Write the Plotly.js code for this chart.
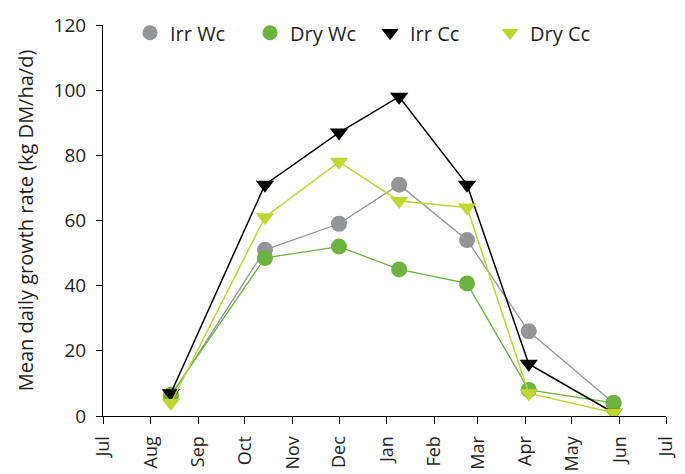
<!DOCTYPE html>
<html>
<head>
<meta charset="utf-8">
<script src="https://cdn.plot.ly/plotly-3.0.1.min.js"></script>
<style>html,body{margin:0;padding:0;background:#fff;}#chart{width:685px;height:474px;}</style>
</head>
<body>
<div id="chart"></div>
<script>
const sampleDates = ['2017-08-14','2017-10-14','2017-12-01','2018-01-09','2018-02-22','2018-04-03','2018-05-28'];
const irrWc = [6, 51, 59, 71, 54, 26, 4];
const dryWc = [6.5, 48.5, 52, 45, 40.7, 8, 4];
const irrCc = [7, 71, 87, 98, 71, 16, 1];
const dryCc = [4, 61, 78, 66, 64, 7, 1];
const seriesNames = ['Irr Wc', 'Dry Wc', 'Irr Cc', 'Dry Cc'];

const font = '"Open Sans", sans-serif';
const txt = '#231f20';

const styles = [
  {color: '#939598', symbol: 'circle', lw: 1.3},
  {color: '#6cb33f', symbol: 'circle', lw: 1.3},
  {color: '#000000', symbol: 'triangle-down', lw: 1.5},
  {color: '#bfd730', symbol: 'triangle-down', lw: 1.5}
];
const values = [irrWc, dryWc, irrCc, dryCc];

const data = [];
values.forEach((y, i) => {
  const s = styles[i];
  data.push({
    x: sampleDates, y: y, name: seriesNames[i], type: 'scatter', mode: 'lines+markers',
    showlegend: false,
    line: {color: s.color, width: s.lw},
    marker: {color: s.color, size: 16, symbol: s.symbol}
  });
});
values.forEach((y, i) => {
  const s = styles[i];
  data.push({
    x: [null], y: [null], name: seriesNames[i], type: 'scatter', mode: 'markers',
    marker: {color: s.color, size: 15, symbol: s.symbol}
  });
});

const layout = {
  width: 685, height: 474,
  margin: {l: 103, r: 19, t: 25, b: 58},
  paper_bgcolor: '#fff', plot_bgcolor: '#fff',
  font: {family: font, color: txt, size: 18},
  showlegend: true,
  legend: {orientation: 'h', x: 0.048, xanchor: 'left', y: 1.03, yanchor: 'top',
           font: {family: font, size: 20, color: txt}, bgcolor: 'rgba(0,0,0,0)',
           itemwidth: 30, tracegroupgap: 0, entrywidth: 75, entrywidthmode: 'pixels'},
  xaxis: {
    type: 'date', range: ['2017-07-01', '2018-07-01'],
    dtick: 'M1', tick0: '2017-07-01', tickformat: '%b', tickangle: -90,
    showgrid: false, zeroline: false, showline: true, linecolor: '#000', linewidth: 1,
    ticks: 'outside', ticklen: 7, tickcolor: '#000', ticklabelstandoff: 5,
    tickfont: {family: font, size: 18, color: txt}
  },
  yaxis: {
    range: [0, 120], dtick: 20,
    showgrid: false, zeroline: false, showline: true, linecolor: '#000', linewidth: 1,
    ticks: 'outside', ticklen: 6, tickcolor: '#000', ticklabelstandoff: 6,
    tickfont: {family: font, size: 19, color: txt},
    title: {text: 'Mean daily growth rate (kg DM/ha/d)', font: {family: font, size: 20, color: txt}, standoff: 14}
  }
};

Plotly.newPlot('chart', data, layout, {displayModeBar: false, staticPlot: true});
</script>
</body>
</html>
